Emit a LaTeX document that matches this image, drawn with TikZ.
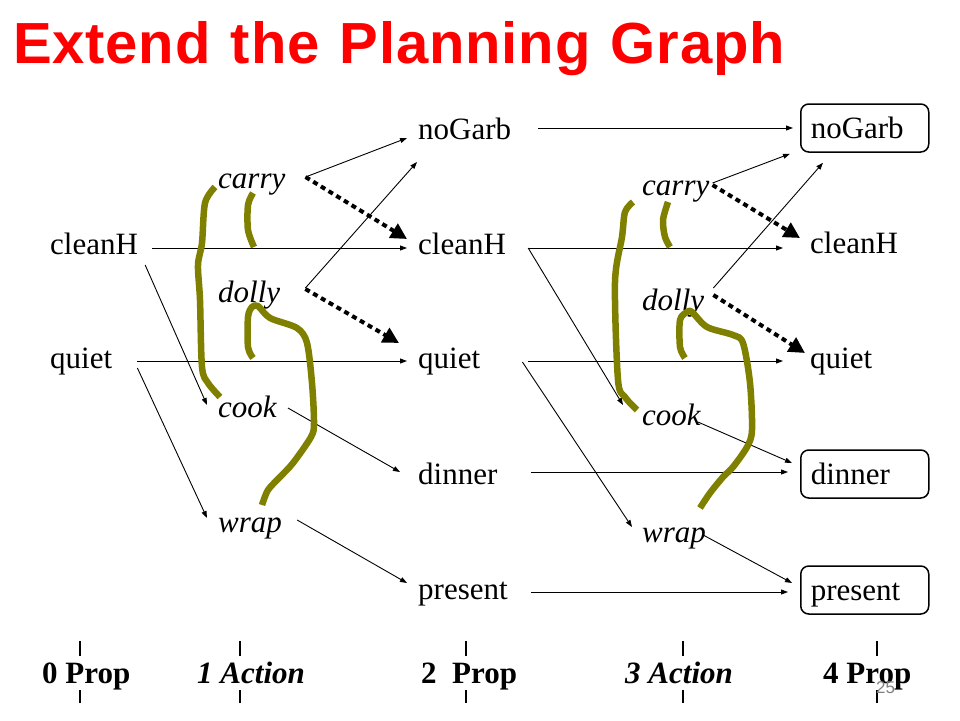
\documentclass[tikz,border=0pt]{standalone}
\usepackage{fontspec}
\setmainfont{Liberation Serif}
\newfontfamily\titlefont[WordSpace=1.2,LetterSpace=1.4]{Liberation Sans}
\newfontfamily\numfont{Liberation Sans}
\usetikzlibrary{arrows.meta,calc}
\definecolor{titlered}{RGB}{255,0,0}
\definecolor{olivec}{RGB}{128,128,0}
\definecolor{pagegray}{RGB}{128,128,128}
\begin{document}
\begin{tikzpicture}[x=1pt,y=-1pt,
  txt/.style={font=\fontsize{31}{31}\selectfont, inner sep=0pt, anchor=base west},
  act/.style={font=\fontsize{31}{31}\selectfont\itshape, inner sep=0pt, anchor=base west},
  goal/.style={draw, rounded corners=8pt, line width=1.5pt, anchor=base west,
    font=\fontsize{31}{31}\selectfont, inner xsep=10pt, inner ysep=4pt,
    text width=108pt, align=left, text height=30pt, text depth=10pt},
  arr/.style={line width=0.9pt, -{Triangle[length=7pt,width=5pt]}},
  dotarr/.style={line width=4pt, dash pattern=on 5pt off 4pt, -{Triangle[length=16pt,width=16pt]}},
  olivepen/.style={draw=olivec, line width=6.5pt, line join=round},
  tickmark/.style={line width=2.5pt},
  lbl/.style={font=\fontsize{31}{31}\selectfont\bfseries, inner sep=0pt, anchor=base west}]
\fill[white] (0,0) rectangle (960,720);
\useasboundingbox (0,0) rectangle (960,720);

% title
\node[anchor=base west, inner sep=0pt, text=titlered,
  font=\titlefont\bfseries\fontsize{58}{58}\selectfont] (title) at (13,63) {Extend the Planning Graph};

% column 0
\node[txt] (c0) at (50,254) {cleanH};
\node[txt] (q0) at (50,368) {quiet};
% column 1
\node[act] (carry1) at (218,188) {carry};
\node[act] (dolly1) at (218,302) {dolly};
\node[act] (cook1) at (218,417) {cook};
\node[act] (wrap1) at (218,532) {wrap};
% column 2
\node[txt] (n2) at (418,139) {noGarb};
\node[txt] (c2) at (418,254) {cleanH};
\node[txt] (q2) at (418,368) {quiet};
\node[txt] (d2) at (418,484) {dinner};
\node[txt] (p2) at (418,599) {present};
% column 3
\node[act] (carry3) at (642,195) {carry};
\node[act] (dolly3) at (642,310) {dolly};
\node[act] (cook3) at (642,425) {cook};
\node[act] (wrap3) at (642,542) {wrap};
% column 4
\node[goal] (n4) at (800,138) {noGarb};
\node[txt] (c4) at (810,253) {cleanH};
\node[txt] (q4) at (810,368) {quiet};
\node[goal] (d4) at (800,484) {dinner};
\node[goal] (p4) at (800,600) {present};

% arrows 0 -> 1 -> 2
\draw[arr] ($(c0.base east)+(14,-6)$) -- ($(c2.base west)+(-11,-6)$);
\draw[arr] ($(q0.base east)+(25,-7)$) -- ($(q2.base west)+(-11,-7)$);
\draw[arr] ($(c0.base east)+(7,11)$) -- ($(cook1.base west)+(-11,-12)$);
\draw[arr] ($(q0.base east)+(25,0)$) -- ($(wrap1.base west)+(-11,-14)$);
\draw[arr] ($(carry1.base east)+(20,-11)$) -- ($(n2.base west)+(-11,-1)$);
\draw[dotarr] ($(carry1.base east)+(20,-11)$) -- ($(c2.base west)+(-11,-15)$);
\draw[arr] ($(dolly1.base east)+(25,-14)$) -- ($(n2.base west)+(-1,23)$);
\draw[dotarr] ($(dolly1.base east)+(25,-13)$) -- ($(q2.base west)+(-19,-25)$);
\draw[arr] ($(cook1.base east)+(11,-9)$) -- ($(d2.base west)+(-18,-12)$);
\draw[arr] ($(wrap1.base east)+(15,-12)$) -- ($(p2.base west)+(-11,-16)$);

% arrows 2 -> 3 -> 4
\draw[arr] ($(n2.base east)+(27,-11)$) -- ($(n4.west)+(-7,0)$);
\draw[arr] ($(c2.base east)+(22,-6)$) -- ($(c4.base west)+(-27,-5)$);
\draw[arr] ($(q2.base east)+(48,-7)$) -- ($(q4.base west)+(-27,-7)$);
\draw[arr] ($(d2.base east)+(33,-12)$) -- ($(d4.west)+(-12,-2)$);
\draw[arr] ($(p2.base east)+(23,-7)$) -- ($(p4.west)+(-12,2)$);
\draw[arr] ($(c2.base east)+(22,-6)$) -- ($(cook3.base west)+(-19,-20)$);
\draw[arr] ($(q2.base east)+(42,-6)$) -- ($(wrap3.base west)+(-10,-15)$);
\draw[arr] ($(carry3.base east)+(3,-12)$) -- ($(n4.south west)+(-10,1)$);
\draw[dotarr] ($(carry3.base east)+(3,-10)$) -- ($(c4.base west)+(-10,-15)$);
\draw[arr] ($(dolly3.base east)+(9,-22)$) -- ($(n4.south west)+(23,10)$);
\draw[dotarr] ($(dolly3.base east)+(9,-15)$) -- ($(q4.base west)+(-5,-15)$);
\draw[arr] ($(cook3.base east)+(-3,-3)$) -- ($(d4.west)+(-8,-11)$);
\draw[arr] ($(wrap3.base east)+(-3,-7)$) -- ($(p4.west)+(-8,-7)$);

% olive mutex marks, level 1
\draw[olivepen] plot[smooth, tension=0.5] coordinates {(215,187) (205,203) (202,243) (198,265) (200,300) (202,367) (208,383) (220,397)};
\draw[olivepen] plot[smooth, tension=0.5] coordinates {(253,193) (248,205) (248,230) (254,247)};
\draw[olivepen] plot[smooth, tension=0.5] coordinates {(253,358) (248,347) (248,317) (252,307) (258,306) (270,318) (297,328) (307,343) (312,383) (314,423) (311,437) (293,463) (280,477) (268,490) (262,505)};
% olive mutex marks, level 3
\draw[olivepen] plot[smooth, tension=0.5] coordinates {(633,202) (625,212) (622,237) (615,282) (618,380) (625,397) (637,410)};
\draw[olivepen] plot[smooth, tension=0.5] coordinates {(668,202) (663,220) (665,237) (670,247)};
\draw[olivepen] plot[smooth, tension=0.5] coordinates {(685,358) (680,347) (680,320) (687,312) (692,312) (707,327) (733,335) (743,343) (750,383) (752,430) (747,447) (733,467) (723,477) (710,493) (700,508)};

% bottom level ticks and labels
\foreach \xx in {80,240,466,683,877} {
  \draw[tickmark] (\xx,641) -- (\xx,656);
  \draw[tickmark] (\xx,690) -- (\xx,703);
}
\node[lbl] (L0) at (42,683) {0 Prop};
\node[lbl] (L1) at (197,683) {\itshape 1 Action};
\node[lbl] (L2) at (421,683) {2\ \ Prop};
\node[lbl] (L3) at (625,683) {\itshape 3 Action};
\node[lbl] (L4) at (823,683) {4 Prop};
\node[anchor=base west, inner sep=0pt, text=pagegray,
  font=\numfont\fontsize{17}{17}\selectfont] (pg) at (876,693) {25};
\end{tikzpicture}
\end{document}
